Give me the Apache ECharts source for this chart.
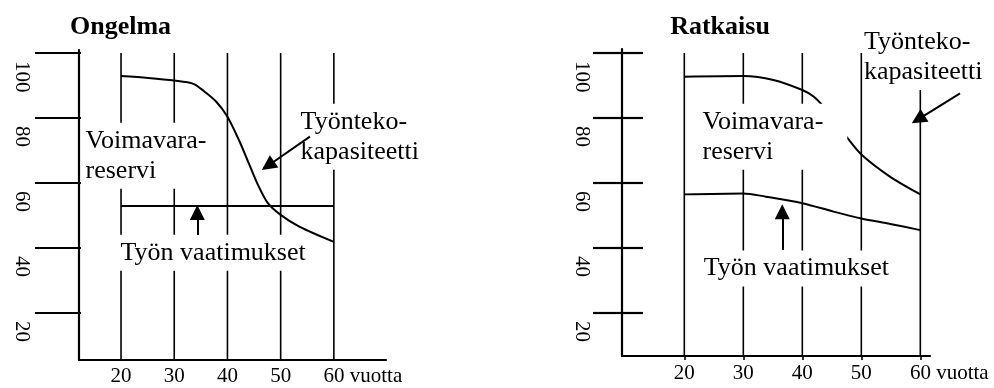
<!DOCTYPE html>
<html>
<head>
<meta charset="utf-8">
<script src="https://cdn.jsdelivr.net/npm/echarts@6/dist/echarts.min.js"></script>
<style>html,body{margin:0;padding:0;background:#fff}#c{width:994px;height:388px}</style>
</head>
<body>
<div id="c"></div>
<script>
// ---- data ----
const xTicks = [20, 30, 40, 50, 60];
const yTicks = [20, 40, 60, 80, 100];
const xUnit = 'vuotta';
const titles = ['Ongelma', 'Ratkaisu'];

// Ongelma (problem)
const leftCapX = [20, 25.1, 30, 33.6, 35.7, 37.9, 40, 42.3, 44.0, 45.6, 47.6, 50, 53.5, 60];
const leftCapY = [92.9, 92.3, 91.5, 90.5, 88.1, 85.0, 80.4, 72.7, 66.1, 59.9, 53.8, 50.2, 46.6, 41.9];
const leftReqX = [20, 60];
const leftReqY = [52.9, 52.9];

// Ratkaisu (solution)
const rightCapX = [20, 30, 35.1, 40, 41.9, 43.6, 45.5, 47.5, 50.1, 54.9, 60];
const rightCapY = [92.7, 92.9, 91.7, 88.6, 86.6, 83.5, 79.1, 74.2, 68.6, 61.9, 56.5];
const rightReqX = [20, 30, 33.8, 40, 45.3, 50, 54.9, 60];
const rightReqY = [56.5, 56.8, 55.8, 53.8, 51.2, 49.1, 47.4, 45.5];

// annotation texts
const txtReserve = 'Voimavara-\nreservi';
const txtCapacity = 'Työnteko-\nkapasiteetti';
const txtDemand = 'Työn vaatimukset';

// ---- chart ----
const FONT = '"Liberation Serif", "Times New Roman", serif';
const BLACK = '#000';
const zip = (xs, ys) => xs.map((x, i) => [x, ys[i]]);

const axisLim = [
  { xmin: 12.1, xmax: 69.8, ymin: 5.54, ymax: 100.92 },
  { xmin: 9.44, xmax: 61.64, ymin: 6.77, ymax: 101.23 }
];

function xAxisFor(g, ticks) {
  return {
    type: 'value', gridIndex: g, min: axisLim[g].xmin, max: axisLim[g].xmax,
    axisLine: { show: true, onZero: false, lineStyle: { color: BLACK, width: 2.2 } },
    axisTick: { show: ticks, length: 4, customValues: xTicks, lineStyle: { color: BLACK, width: 1.6 } },
    splitLine: { show: false },
    axisLabel: {
      customValues: xTicks, margin: g === 0 ? 6 : 7, color: BLACK, fontFamily: FONT, fontSize: 21,
      formatter: v => v === xTicks[xTicks.length - 1] ? '{p| }' + v + ' ' + xUnit : String(v),
      rich: { p: { width: 58 } }
    }
  };
}
function yAxisFor(g, len, margin) {
  return {
    type: 'value', gridIndex: g, min: axisLim[g].ymin, max: axisLim[g].ymax,
    axisLine: { show: true, onZero: false, lineStyle: { color: BLACK, width: 2.2 } },
    axisTick: { show: true, length: len, customValues: yTicks, lineStyle: { color: BLACK, width: 2.2 } },
    splitLine: { show: false },
    axisLabel: {
      customValues: yTicks, rotate: -90, align: 'left', verticalAlign: 'middle',
      margin: margin, padding: [0, 0, 0, 8], color: BLACK, fontFamily: FONT, fontSize: 21
    }
  };
}
function innerTicks(g, len) {
  return {
    type: 'value', gridIndex: g, min: axisLim[g].ymin, max: axisLim[g].ymax, position: 'left',
    axisLine: { show: false },
    axisTick: { show: true, inside: true, length: len, customValues: yTicks, lineStyle: { color: BLACK, width: 2.2 } },
    axisLabel: { show: false }, splitLine: { show: false }
  };
}

const series = [];
function gridLines(g, yi) {
  xTicks.forEach(v => {
    series.push({
      type: 'line', xAxisIndex: g, yAxisIndex: yi, data: [[v, axisLim[g].ymin], [v, 100]],
      symbol: 'none', silent: true, z: 2, lineStyle: { color: BLACK, width: 1.6 }
    });
  });
}
function curve(g, yi, xs, ys, smooth) {
  series.push({
    type: 'line', xAxisIndex: g, yAxisIndex: yi, data: zip(xs, ys), symbol: 'none',
    smooth: smooth, silent: true, z: 3, lineStyle: { color: BLACK, width: 2 }
  });
}
function notes(g, yi, items) {
  series.push({
    type: 'scatter', xAxisIndex: g, yAxisIndex: yi, symbolSize: 1, silent: true, z: 10,
    itemStyle: { color: 'transparent' },
    data: items.map(it => ({
      value: it.at,
      label: { formatter: it.text, padding: it.pad || [3, 4, 3, 4] }
    })),
    label: {
      show: true, position: 'right', distance: 0, align: 'left', color: BLACK, opacity: 1,
      fontFamily: FONT, fontSize: 26, lineHeight: 30, backgroundColor: '#fff'
    }
  });
}
function arrows(g, yi, list) {
  series.push({
    type: 'lines', coordinateSystem: 'cartesian2d', xAxisIndex: g, yAxisIndex: yi,
    clip: false, silent: true, z: 20, symbol: ['none', 'triangle'], symbolSize: 15,
    lineStyle: { color: BLACK, width: 2, opacity: 1, curveness: 0 },
    itemStyle: { color: BLACK },
    data: list.map(c => ({ coords: c }))
  });
}

// left panel
gridLines(0, 0);
curve(0, 0, leftCapX, leftCapY, 0.3);
curve(0, 0, leftReqX, leftReqY, false);
notes(0, 0, [
  { at: [12.48, 68.4], text: txtReserve },
  { at: [52.9, 74.25], text: txtCapacity },
  { at: [19.06, 38.55], text: txtDemand }
]);
arrows(0, 0, [
  [[34.34, 44.0], [34.34, 50.9]],
  [[55.5, 74.25], [47.61, 65.32]]
]);

// right panel
gridLines(1, 2);
curve(1, 2, rightCapX, rightCapY, 0.3);
curve(1, 2, rightReqX, rightReqY, 0.3);
notes(1, 2, [
  { at: [22.32, 74.25], text: txtReserve, pad: [3, 24, 3, 4] },
  { at: [50.37, 98.77], text: txtCapacity, pad: [3, 4, 3, 0] },
  { at: [22.54, 33.72], text: txtDemand }
]);
arrows(1, 2, [
  [[36.6, 39.4], [36.6, 51.14]],
  [[66.73, 87.6], [59.63, 79.58]]
]);

const chart = echarts.init(document.getElementById('c'), null, { renderer: 'canvas' });
chart.setOption({
  animation: false,
  backgroundColor: '#fff',
  title: [
    { text: titles[0], left: 120.5, top: 14, textAlign: 'center', padding: 0,
      textStyle: { fontFamily: FONT, fontWeight: 'bold', fontSize: 26, color: BLACK } },
    { text: titles[1], left: 720, top: 14, textAlign: 'center', padding: 0,
      textStyle: { fontFamily: FONT, fontWeight: 'bold', fontSize: 26, color: BLACK } }
  ],
  grid: [
    { left: 79, right: 608, top: 50, bottom: 28, containLabel: false },
    { left: 622, right: 64, top: 49, bottom: 32, containLabel: false }
  ],
  xAxis: [xAxisFor(0, false), xAxisFor(1, true)],
  yAxis: [yAxisFor(0, 44, 57), innerTicks(0, 2), yAxisFor(1, 29, 40), innerTicks(1, 21)],
  series: series
});
</script>
</body>
</html>
